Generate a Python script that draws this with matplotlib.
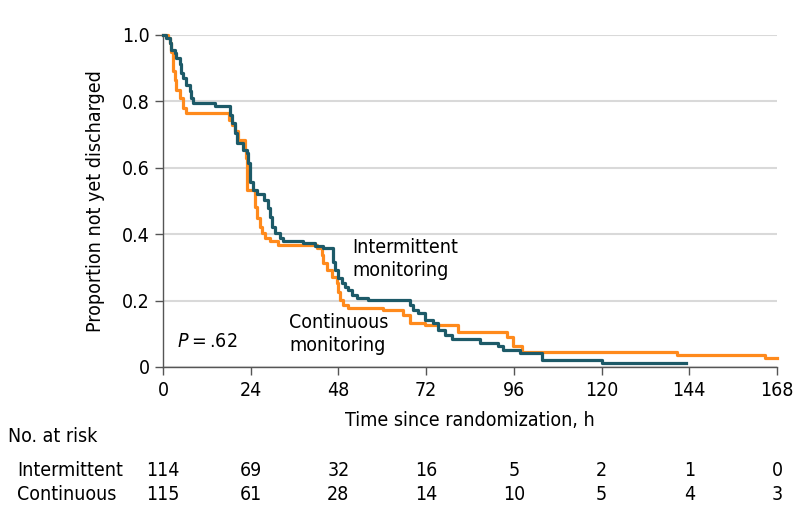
import matplotlib
matplotlib.use('Agg')
import matplotlib.pyplot as plt
import matplotlib.transforms as mtransforms

plt.rcParams['font.family'] = ['DejaVu Sans']
plt.rcParams['font.stretch'] = 'condensed'
plt.rcParams['font.size'] = 14

# Kaplan-Meier style step data (time in h, proportion not yet discharged)
t_inter = [0, 0.9, 1.8, 2.3, 3.2, 3.6, 4.6, 5.0, 5.5, 6.4, 7.3, 7.7, 8.2, 14.1,
           18.3, 18.8, 19.7, 20.2, 22.0, 22.9, 23.3, 23.8, 24.7, 25.6, 27.5,
           28.8, 29.3, 29.7, 30.6, 32.0, 32.9, 38.4, 41.6, 43.9, 46.6, 47.0,
           48.0, 48.9, 49.8, 50.7, 51.6, 53.0, 56.0, 67.6, 68.5, 69.9, 71.7,
           74.0, 75.3, 77.2, 79.0, 86.7, 91.7, 93.0, 97.7, 103.6, 120.0, 143.0]
s_inter = [1.0, 0.99, 0.976, 0.955, 0.945, 0.93, 0.912, 0.886, 0.87, 0.85, 0.83, 0.81, 0.795, 0.785,
           0.76, 0.734, 0.704, 0.674, 0.654, 0.643, 0.613, 0.558, 0.533, 0.52, 0.503,
           0.478, 0.453, 0.423, 0.403, 0.388, 0.38, 0.372, 0.365, 0.357, 0.317, 0.292,
           0.267, 0.252, 0.242, 0.232, 0.217, 0.207, 0.203, 0.187, 0.172, 0.162, 0.142,
           0.131, 0.111, 0.096, 0.083, 0.073, 0.063, 0.052, 0.043, 0.022, 0.011, 0.011]

t_cont = [0, 1.4, 1.8, 2.3, 2.7, 3.2, 3.6, 4.6, 5.5, 6.4, 18.0, 18.8, 19.7, 20.6,
          22.4, 22.7, 22.9, 25.2, 25.6, 26.5, 27.0, 27.9, 29.3, 31.6, 42.0, 43.4,
          43.9, 44.8, 46.2, 47.5, 48.0, 48.4, 49.3, 50.7, 60.3, 65.7, 67.6, 71.7,
          80.8, 94.0, 95.9, 98.1, 140.5, 164.7, 168.0]
s_cont = [1.0, 0.99, 0.976, 0.95, 0.89, 0.865, 0.835, 0.81, 0.78, 0.765, 0.745, 0.73, 0.71, 0.684,
          0.654, 0.63, 0.533, 0.483, 0.448, 0.423, 0.403, 0.388, 0.378, 0.367, 0.357, 0.337,
          0.312, 0.292, 0.272, 0.252, 0.227, 0.202, 0.187, 0.178, 0.172, 0.157, 0.131, 0.127,
          0.106, 0.091, 0.063, 0.044, 0.036, 0.028, 0.028]

risk_times = [0, 24, 48, 72, 96, 120, 144, 168]
risk_inter = [114, 69, 32, 16, 5, 2, 1, 0]
risk_cont = [115, 61, 28, 14, 10, 5, 4, 3]

teal = '#1d5a68'
orange = '#ff8a1c'

fig = plt.figure(figsize=(7.94, 5.25), dpi=100)
ax = fig.add_axes([0.2053, 0.3010, 0.7733, 0.6324])

ax.step(t_cont, s_cont, where='post', color=orange, lw=2.3, clip_on=False, zorder=3)
ax.step(t_inter, s_inter, where='post', color=teal, lw=2.3, clip_on=False, zorder=4)

ax.set_xlim(0, 168)
ax.set_ylim(0, 1.0)
ax.set_xticks(risk_times)
ax.set_yticks([0, 0.2, 0.4, 0.6, 0.8, 1.0])
ax.set_yticklabels(['0', '0.2', '0.4', '0.6', '0.8', '1.0'])
ax.yaxis.grid(True, color='#d9d9d9', lw=1.5)
ax.set_axisbelow(True)
for side in ['top', 'right']:
    ax.spines[side].set_visible(False)
for side in ['left', 'bottom']:
    ax.spines[side].set_color('#555555')
    ax.spines[side].set_linewidth(1.0)
ax.tick_params(axis='both', colors='#555555', labelcolor='black', length=6, width=1.0, labelsize=14)
ax.tick_params(axis='x', pad=4)

ax.set_xlabel('Time since randomization, h', fontsize=14, labelpad=8)
ax.set_ylabel('Proportion not yet discharged', fontsize=14, labelpad=12)

ax.text(51.7, 0.325, 'Intermittent\nmonitoring', fontsize=14, va='center', ha='left', linespacing=1.3)
ax.text(34.5, 0.099, 'Continuous\nmonitoring', fontsize=14, va='center', ha='left', linespacing=1.3)
ax.text(3.8, 0.078, r'$P$' + '\u2009=\u2009.62', fontsize=14, va='center', ha='left')

# number at risk table
trans = mtransforms.blended_transform_factory(ax.transData, fig.transFigure)
fig.text(8 / 794, 1 - 437 / 525, 'No. at risk', fontsize=14, va='center', ha='left')
fig.text(17 / 794, 1 - 470 / 525, 'Intermittent', fontsize=14, va='center', ha='left')
fig.text(17 / 794, 1 - 494 / 525, 'Continuous', fontsize=14, va='center', ha='left')
for x, a, b in zip(risk_times, risk_inter, risk_cont):
    fig.text(x, 1 - 470 / 525, str(a), fontsize=14, va='center', ha='center', transform=trans)
    fig.text(x, 1 - 494 / 525, str(b), fontsize=14, va='center', ha='center', transform=trans)

fig.savefig('out.png', dpi=100)
